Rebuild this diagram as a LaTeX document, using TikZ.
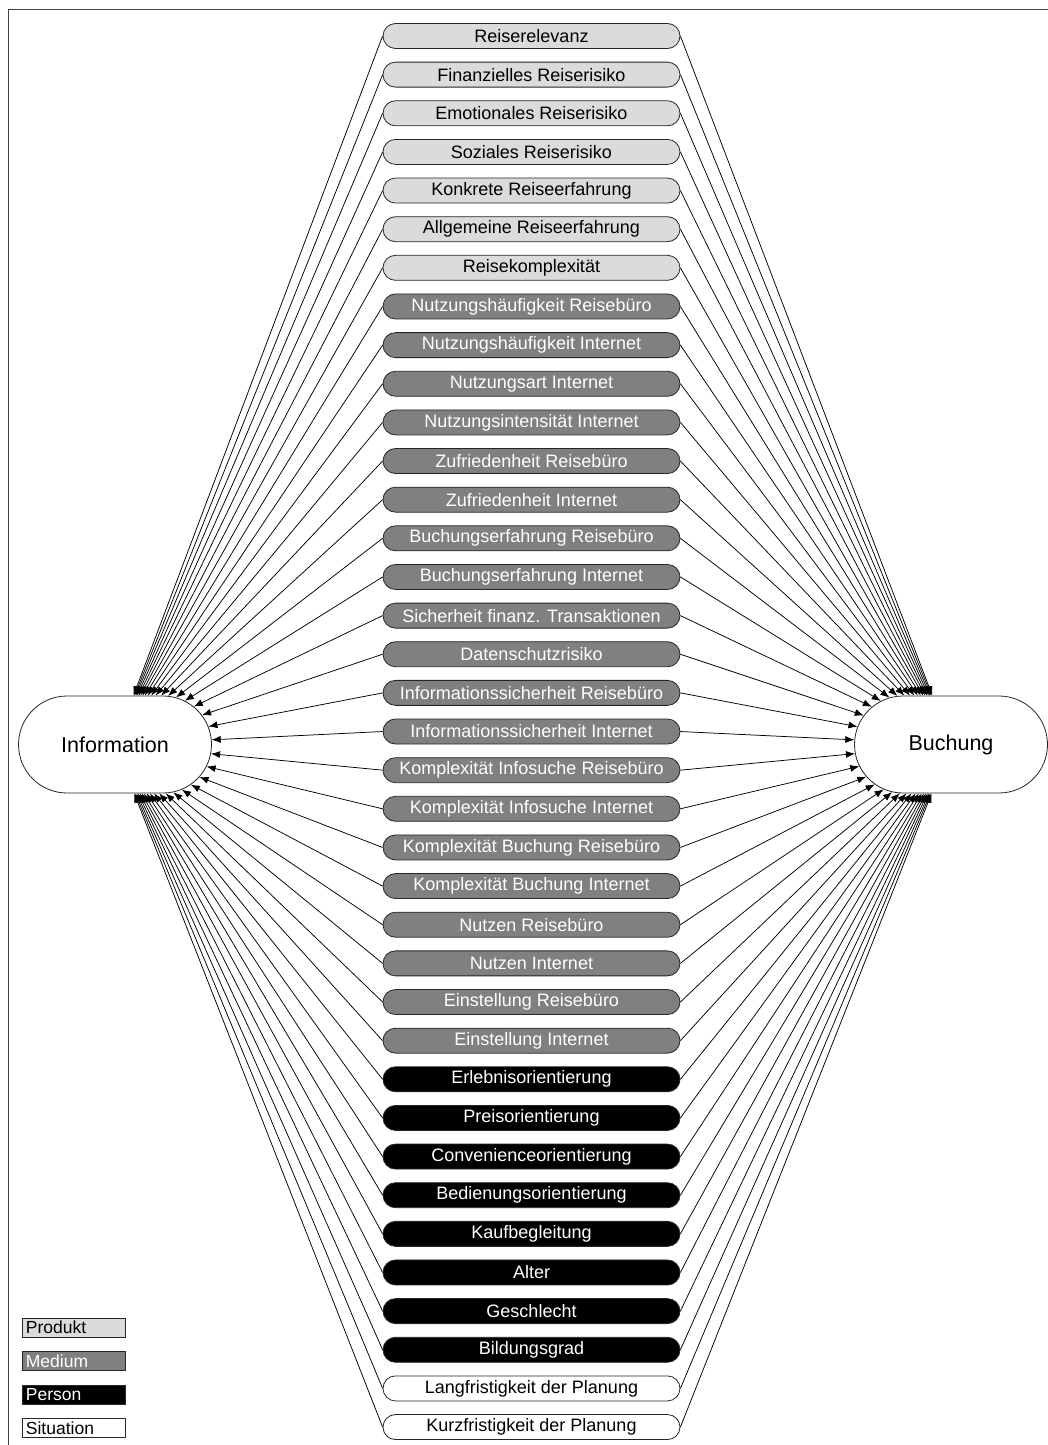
\documentclass[tikz,border=0pt]{standalone}
\usepackage{fontspec}
\setmainfont{Liberation Sans}
\usetikzlibrary{shapes.misc,arrows.meta}

\begin{document}
\begin{tikzpicture}[x=1pt,y=-1pt,
  item/.style={rounded rectangle, draw=black!85, line width=0.8pt,
    minimum width=297pt, minimum height=25pt, inner sep=0pt,
    font=\fontsize{18}{20}\selectfont},
  prod/.style={item, fill=black!14},
  med/.style={item, fill=black!50, text=white},
  pers/.style={item, fill=black, text=white},
  sit/.style={item, fill=white},
  target/.style={rounded rectangle, draw=black!85, line width=0.8pt,
    minimum width=193pt, minimum height=97pt, inner sep=0pt, fill=white,
    font=\fontsize{21.5}{24}\selectfont},
  arr/.style={line width=0.75pt, -{Latex[length=9pt,width=7pt]}},
  legendbox/.style={rectangle, draw=black!85, line width=0.8pt, anchor=west,
    minimum width=103pt, minimum height=19pt, inner sep=0pt,
    text width=96pt, align=left, font=\fontsize{17.5}{19}\selectfont},
  legprod/.style={legendbox, fill=black!14},
  legmed/.style={legendbox, fill=black!50, text=white},
  legpers/.style={legendbox, fill=black, text=white},
  legsit/.style={legendbox, fill=white}]

\useasboundingbox (0,0) rectangle (1048,1445);

% frame
\draw[black!75, line width=0.9pt] (8.5,1445) -- (8.5,9.5) -- (1048,9.5);

% outcome nodes
\node[target] (info) at (115,744.5) {Information};
\node[target] (buch) at (951,744.5) {Buchung};

% determinant nodes and their arrows
\foreach \i/\s/\t in {
  1/prod/Reiserelevanz,
  2/prod/Finanzielles Reiserisiko,
  3/prod/Emotionales Reiserisiko,
  4/prod/Soziales Reiserisiko,
  5/prod/Konkrete Reiseerfahrung,
  6/prod/Allgemeine Reiseerfahrung,
  7/prod/Reisekomplexität,
  8/med/Nutzungshäufigkeit Reisebüro,
  9/med/Nutzungshäufigkeit Internet,
  10/med/Nutzungsart Internet,
  11/med/Nutzungsintensität Internet,
  12/med/Zufriedenheit Reisebüro,
  13/med/Zufriedenheit Internet,
  14/med/Buchungserfahrung Reisebüro,
  15/med/Buchungserfahrung Internet,
  16/med/Sicherheit finanz. Transaktionen,
  17/med/Datenschutzrisiko,
  18/med/Informationssicherheit Reisebüro,
  19/med/Informationssicherheit Internet,
  20/med/Komplexität Infosuche Reisebüro,
  21/med/Komplexität Infosuche Internet,
  22/med/Komplexität Buchung Reisebüro,
  23/med/Komplexität Buchung Internet,
  24/med/Nutzen Reisebüro,
  25/med/Nutzen Internet,
  26/med/Einstellung Reisebüro,
  27/med/Einstellung Internet,
  28/pers/Erlebnisorientierung,
  29/pers/Preisorientierung,
  30/pers/Convenienceorientierung,
  31/pers/Bedienungsorientierung,
  32/pers/Kaufbegleitung,
  33/pers/Alter,
  34/pers/Geschlecht,
  35/pers/Bildungsgrad,
  36/sit/Langfristigkeit der Planung,
  37/sit/Kurzfristigkeit der Planung}{
  \node[\s] (n\i) at (531.5,{36+(\i-1)*38.64}) {\t};
  \draw[arr] (n\i.west) -- (info);
  \draw[arr] (n\i.east) -- (buch);
}

% legend
\node[legprod] (lp) at (22,1327.5) {Produkt};
\node[legmed]  (lm) at (22,1361) {Medium};
\node[legpers] (lr) at (22,1394.5) {Person};
\node[legsit]  (ls) at (22,1428) {Situation};

\end{tikzpicture}
\end{document}
